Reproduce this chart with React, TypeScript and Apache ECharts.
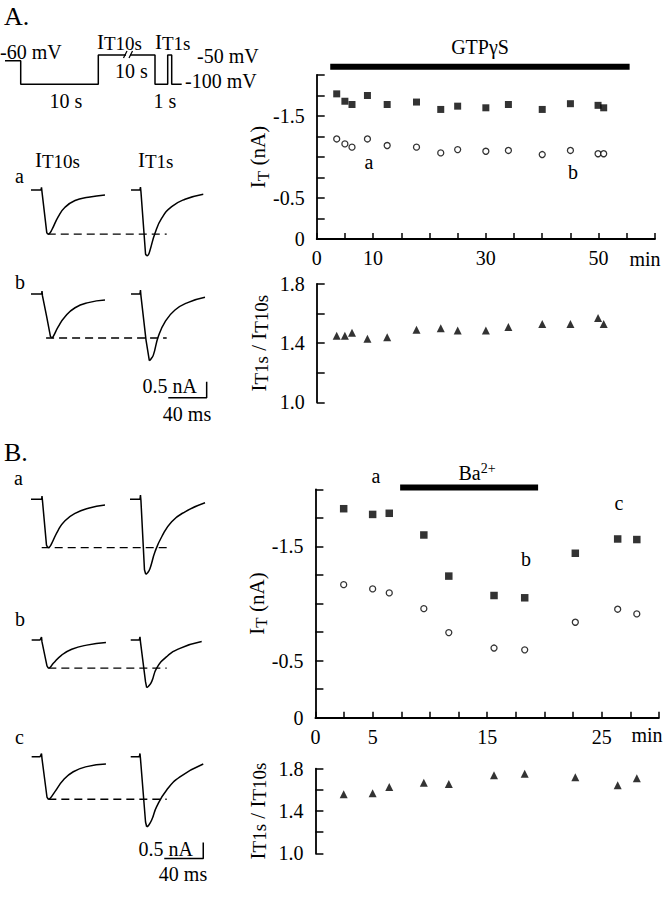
import React, { useEffect, useRef } from "react";
import * as echarts from "echarts";

const FONT = "Liberation Serif, Times New Roman, serif";

// ---- Panel A scatter data (time in min, current in nA) ----
const timeA = [3.55, 5.0, 6.26, 9.0, 12.5, 17.7, 22.0, 25.0, 30.0, 34.0, 40.0, 45.0, 49.9, 50.9];
const it1sA = [-1.77, -1.68, -1.64, -1.75, -1.64, -1.67, -1.58, -1.62, -1.6, -1.64, -1.58, -1.65, -1.63, -1.6];
const it10sA = [-1.22, -1.16, -1.12, -1.22, -1.14, -1.12, -1.05, -1.09, -1.07, -1.08, -1.03, -1.08, -1.04, -1.04];
const ratioA = [1.45, 1.45, 1.47, 1.43, 1.44, 1.49, 1.5, 1.485, 1.485, 1.51, 1.53, 1.53, 1.57, 1.53];
const gtpBar = [2.4, 55.5];

// ---- Panel B scatter data ----
const timeB = [2.47, 5.0, 6.45, 9.47, 11.65, 15.6, 18.28, 22.7, 26.4, 28.07];
const it1sB = [-1.83, -1.78, -1.79, -1.6, -1.24, -1.07, -1.05, -1.44, -1.565, -1.56];
const it10sB = [-1.165, -1.128, -1.093, -0.955, -0.745, -0.61, -0.594, -0.836, -0.95, -0.909];
const ratioB = [1.558, 1.567, 1.627, 1.668, 1.655, 1.737, 1.753, 1.72, 1.643, 1.709];
const baBar = [7.4, 19.45];

// ---- tick labels ----
const xLabelsA = [0, 10, 30, 50];
const xLabelsB = [0, 5, 15, 25];
const yLabelsI = [-1.5, -0.5, 0];
const yLabelsR = [1.0, 1.4, 1.8];

// ---- voltage protocol (schematic position, mV) ----
const protoX = [5, 20.7, 20.7, 98.3, 98.3, 155, 155, 167.7, 167.7, 171.7, 171.7, 181.7];
const protoV = [-60, -60, -100, -100, -50, -50, -100, -100, -50, -50, -100, -100];

// ---- current traces (ms, nA) ----
const traceAa10 = [[1, 0], [11.3, 0], [11.8, 0.08], [12.3, -0.06], [17.2, -1.33], [18.2, -1.38], [19.5, -1.37], [22.3, -1.25], [29.0, -0.83], [35.9, -0.54], [46.2, -0.33], [59.8, -0.23], [76.9, -0.16]];
const traceAa1 = [[103.6, 0], [112.8, 0], [113.3, 0.09], [113.8, -0.06], [118.5, -2.0], [119.7, -2.06], [121.3, -2.03], [123.1, -1.88], [128.2, -1.35], [135.1, -0.88], [145.3, -0.52], [159, -0.29], [177.7, -0.13]];
const dashAa = [[18.2, -1.38], [140.2, -1.38]];
const traceAb10 = [[1, 0], [12, 0], [12.3, 0.09], [12.8, -0.06], [17.1, -0.71], [21, -1.33], [22.3, -1.37], [23.6, -1.34], [29, -1.02], [35.9, -0.71], [46.2, -0.43], [59.8, -0.27], [76.9, -0.19]];
const traceAb1 = [[103.6, 0], [112.8, 0], [113.3, 0.12], [113.8, -0.06], [119, -1.44], [122.4, -2.08], [124.1, -2.03], [126.5, -1.91], [131.6, -1.33], [138.5, -0.87], [148.7, -0.5], [162.4, -0.26], [179.5, -0.1]];
const dashAb = [[16.5, -1.375], [140.2, -1.375]];
const scaleA = [[141.8, -3.24], [181.2, -3.24], [181.2, -2.74]];

const traceBa10 = [[1, 0], [12, 0], [12.3, 0.1], [12.8, -0.05], [16.9, -1.43], [18.2, -1.51], [20, -1.49], [22.3, -1.375], [29, -0.96], [35.9, -0.67], [46.2, -0.44], [59.8, -0.28], [76.9, -0.18]];
const traceBa1 = [[102.6, 0], [112.8, 0], [113.3, 0.13], [113.8, -0.05], [117.4, -2.2], [118.7, -2.34], [120.5, -2.3], [123.1, -2.16], [128.2, -1.64], [135.1, -1.17], [145.3, -0.7], [159, -0.39], [179.5, -0.11]];
const dashBa = [[12, -1.51], [140.2, -1.51]];
const traceBb10 = [[1.7, 0], [10.3, 0], [11.8, 0.09], [12.3, -0.06], [17.4, -0.81], [18.8, -0.88], [20.5, -0.86], [23.9, -0.73], [32.5, -0.47], [42.8, -0.29], [58.2, -0.16], [77.9, -0.08]];
const traceBb1 = [[103.3, 0], [112.1, 0], [112.8, 0.1], [113.3, -0.06], [118.5, -1.31], [119.7, -1.49], [121.5, -1.45], [124.8, -1.3], [129.9, -0.88], [140.2, -0.52], [153.8, -0.26], [176.1, -0.05]];
const dashBb = [[18.8, -0.88], [140.2, -0.88]];
const traceBc10 = [[1.7, 0], [10.3, 0], [11.8, 0.1], [12.3, -0.06], [17.4, -1.26], [18.8, -1.33], [20.5, -1.31], [25.6, -1.09], [34.2, -0.73], [44.4, -0.47], [58.2, -0.31], [77.9, -0.23]];
const traceBc1 = [[103.3, 0], [112.1, 0], [112.8, 0.1], [113.3, -0.06], [118.5, -2.04], [119.7, -2.19], [121.5, -2.15], [124.8, -1.98], [129.9, -1.56], [140.2, -1.04], [153.8, -0.63], [177.7, -0.23]];
const dashBc = [[18.8, -1.33], [140.2, -1.33]];
const scaleB = [[137.7, -3.18], [177.7, -3.18], [177.7, -2.68]];

const zip = (xs: number[], ys: number[]) => xs.map((x, i) => [x, ys[i]]);

function buildOption() {
  // grid indices
  // 0 protocol, 1 A-a, 2 A-b, 3 B-a, 4 B-b, 5 B-c, 6 A I, 7 A ratio, 8 B I, 9 B ratio
  const traceTops = [174, 278, 483.3, 624, 740.7];
  const grids: any[] = [
    { left: 0, top: 55, width: 200, height: 29.3 },
    ...traceTops.map((t) => ({ left: 30, top: t, width: 195, height: 128 })),
    { left: 316.7, top: 75, width: 338.3, height: 164 },
    { left: 316.7, top: 284, width: 338.3, height: 118.3 },
    { left: 315.4, top: 489.3, width: 343.5, height: 228.4 },
    { left: 315.4, top: 768.7, width: 343.5, height: 84.6 },
  ];

  const lbl = { color: "#000", fontFamily: FONT, fontSize: 20 };
  const axLine = { show: true, onZero: false, lineStyle: { color: "#000", width: 1.8 } };

  const hiddenX = (gi: number, min: number, max: number) => ({ gridIndex: gi, type: "value", min, max, show: false });
  const hiddenY = (gi: number, min: number, max: number) => ({ gridIndex: gi, type: "value", min, max, show: false });

  const timeAxis = (gi: number, max: number, interval: number, labels: number[], show: boolean) => ({
    gridIndex: gi,
    type: "value",
    min: 0,
    max,
    interval,
    show,
    axisLine: axLine,
    axisTick: { show: true, inside: true, length: 6, lineStyle: { color: "#000", width: 1.5 } },
    axisLabel: {
      ...lbl,
      margin: 9,
      formatter: (v: number) => (labels.some((l) => Math.abs(l - v) < 1e-6) ? String(v) : ""),
    },
    splitLine: { show: false },
  });

  const nameRichI = {
    i: { fontFamily: FONT, fontSize: 21, color: "#000", verticalAlign: "bottom" },
    t: { fontFamily: FONT, fontSize: 17, color: "#000", verticalAlign: "bottom", padding: [0, 0, -3, 0] },
    n: { fontFamily: FONT, fontSize: 21, color: "#000", verticalAlign: "bottom" },
  };
  const nameRichR = {
    i: { fontFamily: FONT, fontSize: 21, color: "#000", verticalAlign: "bottom" },
    t: { fontFamily: FONT, fontSize: 19, color: "#000", verticalAlign: "bottom", padding: [0, 0, -1, 0] },
    n: { fontFamily: FONT, fontSize: 21, color: "#000", verticalAlign: "bottom" },
  };

  const currentAxis = (gi: number) => ({
    gridIndex: gi,
    type: "value",
    min: -2,
    max: 0,
    interval: 0.25,
    inverse: true,
    axisLine: axLine,
    axisTick: { show: true, inside: true, length: 8, lineStyle: { color: "#000", width: 1.5 } },
    axisLabel: {
      ...lbl,
      margin: 12,
      formatter: (v: number) => {
        const m = yLabelsI.find((l) => Math.abs(l - v) < 1e-6);
        return m === undefined ? "" : String(m);
      },
    },
    splitLine: { show: false },
    name: "{i|I}{t|T}{n| (nA)}",
    nameLocation: "middle",
    nameGap: 48,
    nameMoveOverlap: false,
    nameRotate: 90,
    nameTextStyle: { rich: nameRichI },
  });

  const ratioAxis = (gi: number, gap: number) => ({
    gridIndex: gi,
    type: "value",
    min: 1.0,
    max: 1.8,
    interval: 0.2,
    axisLine: axLine,
    axisTick: { show: true, inside: true, length: 8, lineStyle: { color: "#000", width: 1.5 } },
    axisLabel: {
      ...lbl,
      margin: 12,
      formatter: (v: number) => {
        const m = yLabelsR.find((l) => Math.abs(l - v) < 1e-6);
        return m === undefined ? "" : m.toFixed(1);
      },
    },
    splitLine: { show: false },
    name: "{i|I}{t|T1s}{n| / }{i|I}{t|T10s}",
    nameLocation: "middle",
    nameGap: gap,
    nameMoveOverlap: false,
    nameRotate: 90,
    nameTextStyle: { rich: nameRichR },
  });

  const xAxes: any[] = [
    hiddenX(0, 0, 200),
    hiddenX(1, 0, 200),
    hiddenX(2, 0, 200),
    hiddenX(3, 0, 200),
    hiddenX(4, 0, 200),
    hiddenX(5, 0, 200),
    timeAxis(6, 60, 5, xLabelsA, true),
    hiddenX(7, 0, 60),
    timeAxis(8, 30, 2.5, xLabelsB, true),
    hiddenX(9, 0, 30),
  ];
  const yAxes: any[] = [
    hiddenY(0, -100, -50),
    hiddenY(1, -3.5, 0.5),
    hiddenY(2, -3.5, 0.5),
    hiddenY(3, -3.5, 0.5),
    hiddenY(4, -3.5, 0.5),
    hiddenY(5, -3.5, 0.5),
    currentAxis(6),
    ratioAxis(7, 47),
    currentAxis(8),
    ratioAxis(9, 47),
  ];

  const line = (gi: number, data: any[], extra: any = {}) => ({
    type: "line",
    xAxisIndex: gi,
    yAxisIndex: gi,
    data,
    symbol: "none",
    showSymbol: false,
    clip: false,
    silent: true,
    lineStyle: { color: "#000", width: 1.5 },
    ...extra,
  });
  // a trace: straight baseline + drop up to the peak, smooth recovery after it
  const trace = (gi: number, data: number[][]) => {
    let pk = 0;
    data.forEach((p, i) => {
      if (p[1] < data[pk][1]) pk = i;
    });
    return [
      line(gi, data.slice(0, pk + 1)),
      line(gi, data.slice(pk), { smooth: 0.5 }),
    ];
  };
  const dash = (gi: number, data: any[]) => line(gi, data, { lineStyle: { color: "#000", width: 1.4, type: [8, 5] } });

  const squares = (gi: number, xs: number[], ys: number[], size: number) => ({
    type: "scatter",
    xAxisIndex: gi,
    yAxisIndex: gi,
    data: zip(xs, ys),
    symbol: "rect",
    symbolSize: size,
    itemStyle: { color: "#000" },
  });
  const circles = (gi: number, xs: number[], ys: number[], size: number) => ({
    type: "scatter",
    xAxisIndex: gi,
    yAxisIndex: gi,
    data: zip(xs, ys),
    symbol: "circle",
    symbolSize: size,
    itemStyle: { color: "#fff", borderColor: "#000", borderWidth: 1.3 },
  });
  const triangles = (gi: number, xs: number[], ys: number[], size: number) => ({
    type: "scatter",
    xAxisIndex: gi,
    yAxisIndex: gi,
    data: zip(xs, ys),
    symbol: "triangle",
    symbolSize: size,
    itemStyle: { color: "#000" },
  });

  const series: any[] = [
    line(0, zip(protoX, protoV)),
    ...trace(1, traceAa10),
    ...trace(1, traceAa1),
    dash(1, dashAa),
    ...trace(2, traceAb10),
    ...trace(2, traceAb1),
    dash(2, dashAb),
    line(2, scaleA),
    ...trace(3, traceBa10),
    ...trace(3, traceBa1),
    dash(3, dashBa),
    ...trace(4, traceBb10),
    ...trace(4, traceBb1),
    dash(4, dashBb),
    ...trace(5, traceBc10),
    ...trace(5, traceBc1),
    dash(5, dashBc),
    line(5, scaleB),
    line(6, gtpBar.map((t) => [t, -2.1]), { lineStyle: { color: "#000", width: 6 } }),
    squares(6, timeA, it1sA, 7),
    circles(6, timeA, it10sA, 6),
    triangles(7, timeA, ratioA, 8),
    line(8, baBar.map((t) => [t, -2.015]), { lineStyle: { color: "#000", width: 6 } }),
    squares(8, timeB, it1sB, 7.5),
    circles(8, timeB, it10sB, 6),
    triangles(9, timeB, ratioB, 8),
  ];

  const txt = (x: number, y: number, text: string, o: any = {}) => ({
    type: "text",
    x,
    y,
    z: 100,
    silent: true,
    style: {
      text,
      fill: "#000",
      fontFamily: FONT,
      fontSize: o.size || 20,
      align: o.align || "left",
      verticalAlign: "middle",
      rich: o.rich,
    },
  });
  const subRich = {
    i: { fontFamily: FONT, fontSize: 21, fill: "#000", color: "#000", verticalAlign: "bottom" },
    s: { fontFamily: FONT, fontSize: 19, fill: "#000", color: "#000", verticalAlign: "bottom" },
  };
  const supRich = {
    b: { fontFamily: FONT, fontSize: 20, color: "#000", verticalAlign: "bottom" },
    p: { fontFamily: FONT, fontSize: 14, color: "#000", verticalAlign: "top", padding: [0, 0, 8, 0] },
  };

  const graphic: any[] = [
    txt(4, 16, "A.", { size: 26 }),
    txt(4, 452, "B.", { size: 26 }),
    // protocol
    txt(0, 52, "-60 mV"),
    txt(97, 42, "{i|I}{s|T10s}", { rich: subRich }),
    txt(155, 42, "{i|I}{s|T1s}", { rich: subRich }),
    txt(115, 71, "10 s"),
    txt(197, 56, "-50 mV"),
    txt(185, 81, "-100 mV"),
    txt(66, 101, "10 s", { align: "center" }),
    txt(165, 101, "1 s", { align: "center" }),
    { type: "rect", z: 100, shape: { x: 126, y: 52, width: 4, height: 6 }, style: { fill: "#fff" } },
    { type: "line", z: 101, shape: { x1: 123.5, y1: 58, x2: 127, y2: 51 }, style: { stroke: "#000", lineWidth: 1.2 } },
    { type: "line", z: 101, shape: { x1: 129, y1: 58, x2: 132.5, y2: 51 }, style: { stroke: "#000", lineWidth: 1.2 } },
    // trace headers and letters (A)
    txt(35, 160, "{i|I}{s|T10s}", { rich: subRich }),
    txt(138, 160, "{i|I}{s|T1s}", { rich: subRich }),
    txt(15, 176, "a"),
    txt(15, 282, "b"),
    txt(197, 386, "0.5 nA", { align: "right" }),
    txt(187, 414, "40 ms", { align: "center" }),
    // B traces
    txt(14, 478, "a"),
    txt(15, 619, "b"),
    txt(15, 737, "c"),
    txt(193, 849, "0.5 nA", { align: "right" }),
    txt(183, 874, "40 ms", { align: "center" }),
    // scatter labels A
    txt(480, 47, "GTPγS", { align: "center" }),
    txt(369, 162, "a", { align: "center" }),
    txt(573, 172, "b", { align: "center" }),
    txt(645, 259, "min", { align: "center" }),
    // scatter labels B
    txt(477, 472, "{b|Ba}{p|2+}", { align: "center", rich: supRich }),
    txt(376, 476, "a", { align: "center" }),
    txt(526, 559, "b", { align: "center" }),
    txt(619, 503, "c", { align: "center" }),
    txt(647, 735, "min", { align: "center" }),
  ];

  return {
    animation: false,
    backgroundColor: "#fff",
    textStyle: { fontFamily: FONT },
    grid: grids,
    xAxis: xAxes,
    yAxis: yAxes,
    series,
    graphic,
  };
}

export default function App() {
  const ref = useRef<HTMLDivElement>(null);
  useEffect(() => {
    if (!ref.current) return;
    const chart = echarts.init(ref.current, undefined, { renderer: "svg" });
    chart.setOption(buildOption() as any);
    return () => chart.dispose();
  }, []);
  return (
    <div
      ref={ref}
      style={{ position: "absolute", left: 0, top: 0, width: 666, height: 900, background: "#fff" }}
    />
  );
}
